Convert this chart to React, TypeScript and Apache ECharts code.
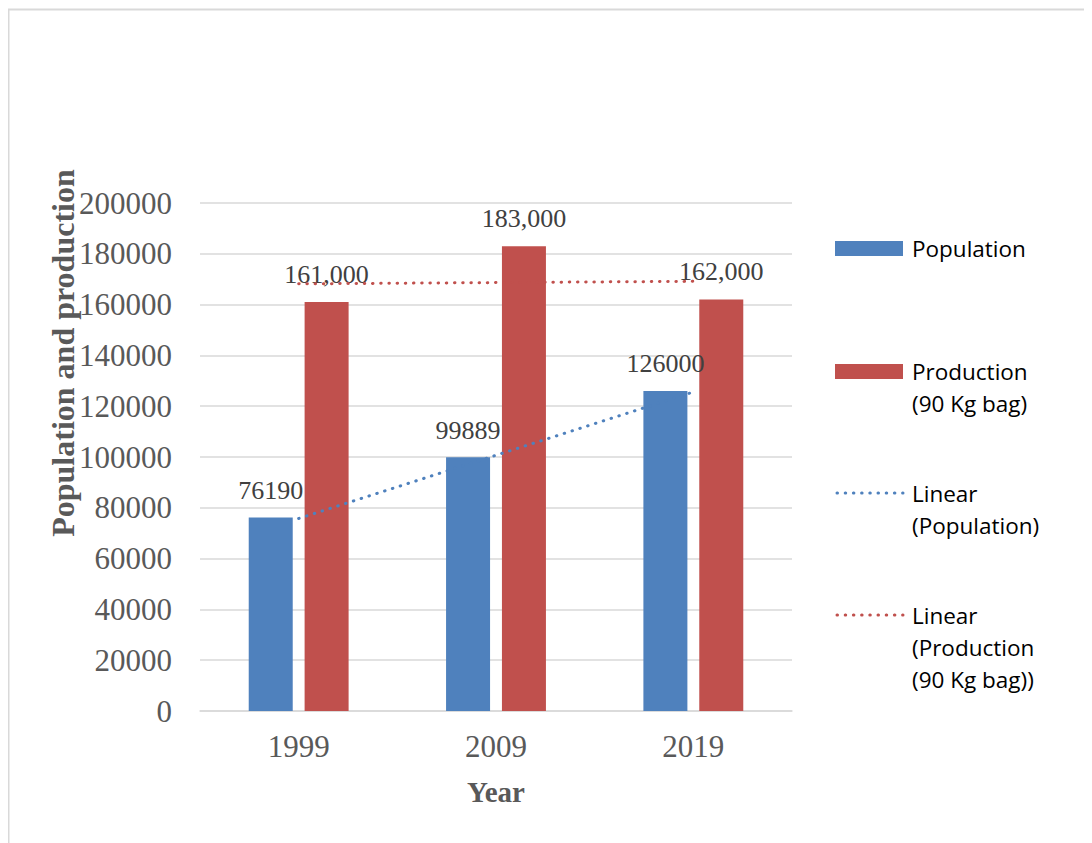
import React, { useEffect, useRef } from "react";
import * as echarts from "echarts";

const years = ["1999", "2009", "2019"];
const population = [76190, 99889, 126000];
const production = [161000, 183000, 162000];
const yTicks = { min: 0, max: 200000, interval: 20000 };
const legendNames = ["Population", "Production\n(90 Kg bag)", "Linear\n(Population)", "Linear\n(Production\n(90 Kg bag))"];

const BLUE = "#4f81bd";
const RED = "#c0504d";

function linearTrend(vals: number[]): number[] {
  const n = vals.length;
  const xs = vals.map((_, i) => i);
  const mx = xs.reduce((a, b) => a + b, 0) / n;
  const my = vals.reduce((a, b) => a + b, 0) / n;
  let num = 0, den = 0;
  xs.forEach((x, i) => { num += (x - mx) * (vals[i] - my); den += (x - mx) * (x - mx); });
  const slope = num / den;
  return xs.map((x) => my + slope * (x - mx));
}

export default function App() {
  const ref = useRef<HTMLDivElement>(null);
  useEffect(() => {
    if (!ref.current) return;
    const prevOverflow = document.documentElement.style.overflow;
    document.documentElement.style.overflow = "hidden";
    const chart = echarts.init(ref.current, null, { renderer: "svg" });
    const serif = "'Liberation Serif', 'Times New Roman', serif";
    const sans = "'Open Sans', 'Noto Sans', sans-serif";
    const legendTop = [240, 363, 485, 607];
    const legendColors = [BLUE, RED, BLUE, RED];
    const legendGraphic: any[] = [];
    legendNames.forEach((name, i) => {
      const cy = legendTop[i];
      if (i < 2) {
        legendGraphic.push({ type: "rect", shape: { x: 827, y: cy - 7, width: 68, height: 15 }, style: { fill: legendColors[i] } });
      } else {
        legendGraphic.push({ type: "line", shape: { x1: 829, y1: cy, x2: 895, y2: cy }, style: { stroke: legendColors[i], lineWidth: 3, lineDash: [0.5, 7.7], lineCap: "round" } });
      }
      legendGraphic.push({ type: "text", x: 904, y: cy - 16, style: { text: name, font: `22.5px ${sans}`, fill: "#000000", lineHeight: 32, textVerticalAlign: "top" } });
    });
    chart.setOption({
      animation: false,
      grid: { left: 192, top: 195, width: 592, height: 508 },
      xAxis: {
        type: "category",
        data: years,
        axisLine: { show: true, lineStyle: { color: "#d9d9d9", width: 1.5 } },
        axisTick: { show: false },
        axisLabel: { color: "#595959", fontFamily: serif, fontSize: 31, margin: 20 },
        name: "Year",
        nameLocation: "middle",
        nameGap: 66,
        nameTextStyle: { color: "#595959", fontFamily: serif, fontSize: 29, fontWeight: "bold" },
      },
      yAxis: {
        type: "value",
        min: yTicks.min,
        max: yTicks.max,
        interval: yTicks.interval,
        axisLine: { show: false },
        axisTick: { show: false },
        splitLine: { lineStyle: { color: "#d9d9d9", width: 1.5 } },
        axisLabel: { color: "#595959", fontFamily: serif, fontSize: 31, margin: 28, formatter: (v: number) => String(v) },
      },
      series: [
        {
          name: "Population",
          type: "bar",
          data: population,
          barWidth: 44,
          barGap: "27%",
          itemStyle: { color: BLUE },
          label: { show: true, position: "top", distance: 14, color: "#404040", fontFamily: serif, fontSize: 26, formatter: (p: any) => String(p.value) },
        },
        {
          name: "Production (90 Kg bag)",
          type: "bar",
          data: production,
          barWidth: 44,
          itemStyle: { color: RED },
          label: { show: true, position: "top", distance: 15, color: "#404040", fontFamily: serif, fontSize: 26, formatter: (p: any) => Number(p.value).toLocaleString("en-US") },
        },
        {
          name: "Linear (Population)",
          type: "line",
          data: linearTrend(population),
          symbol: "none",
          z: 5,
          lineStyle: { color: BLUE, width: 3, type: [0.5, 7.7], cap: "round" },
        },
        {
          name: "Linear (Production (90 Kg bag))",
          type: "line",
          data: linearTrend(production),
          symbol: "none",
          z: 5,
          lineStyle: { color: RED, width: 3, type: [0.5, 7.7], cap: "round" },
        },
      ],
      graphic: [
        { type: "rect", shape: { x: 0.5, y: 1.5, width: 1300, height: 1000 }, style: { fill: "none", stroke: "#d9d9d9", lineWidth: 2 }, silent: true },
        { type: "text", x: 55, y: 345, rotation: Math.PI / 2, style: { text: "Population and production", font: `bold 32px ${serif}`, fill: "#595959", textAlign: "center", textVerticalAlign: "middle" } },
        ...legendGraphic,
      ],
    });
    return () => {
      chart.dispose();
      document.documentElement.style.overflow = prevOverflow;
    };
  }, []);
  return <div ref={ref} style={{ width: 1084, height: 835 }} />;
}
